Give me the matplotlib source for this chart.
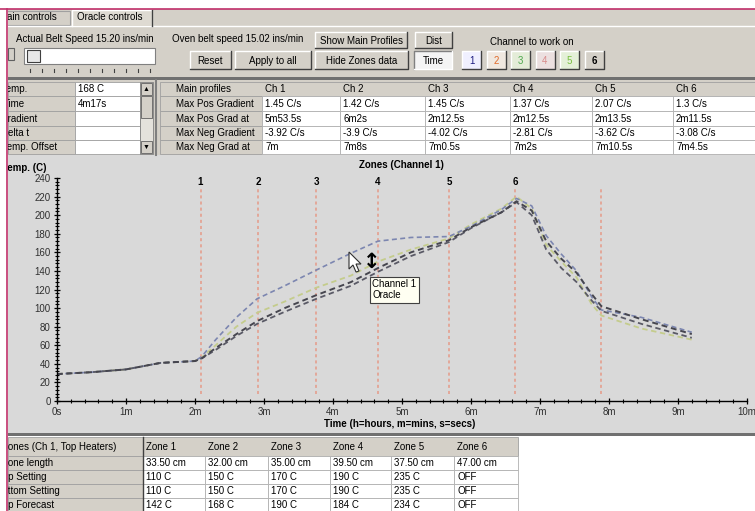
#!/usr/bin/env python3
"""Oracle controls screen: zone profile chart with the surrounding panels."""

import matplotlib
matplotlib.use('Agg')
import matplotlib.pyplot as plt
from matplotlib.patches import Rectangle, Polygon
from matplotlib.lines import Line2D
from matplotlib.ticker import MultipleLocator

plt.rcParams['font.family'] = ['Liberation Sans', 'DejaVu Sans']

# ---- data ----
times_min = [0, 0.5, 1.0, 1.5, 2.0, 2.1, 2.3, 2.6, 2.9, 3.3, 3.76, 4.26, 4.65,
             5.13, 5.68, 6.0, 6.44, 6.66, 6.88, 7.09, 7.31, 7.53, 7.75, 7.89,
             8.47, 9.2]
dark_a = [29, 31, 34, 41, 43, 46, 57, 72, 86, 100, 114, 128, 143, 160, 173,
          187, 203, 215, 205, 172, 153, 138, 115, 102, 88, 72]
dark_b = [29, 31, 34, 41, 43, 46, 55, 70, 83, 96, 110, 124, 139, 156, 171,
          186, 203, 214, 200, 163, 143, 128, 108, 97, 83, 68]
oracle = [29, 31, 34, 41, 43, 48, 66, 90, 110, 124, 141, 159, 172, 176, 177,
          188, 206, 218, 210, 178, 158, 140, 112, 98, 90, 74]
green = [29, 31, 34, 41, 43, 47, 60, 80, 95, 107, 122, 135, 150, 163, 175,
         190, 207, 220, 207, 168, 150, 133, 104, 92, 78, 66]

zone_times = [2.08, 2.92, 3.76, 4.65, 5.68, 6.64, 7.88]
zone_marks = ['1', '2', '3', '4', '5', '6', '']
x_ticklabels = ['0s', '1m', '2m', '3m', '4m', '5m', '6m', '7m', '8m', '9m', '10m']

left_labels = ['Temp.', 'Time', 'Gradient', 'Delta t', 'Temp. Offset']
left_values = ['168 C', '4m17s', '', '', '']

channels = ['Ch 1', 'Ch 2', 'Ch 3', 'Ch 4', 'Ch 5', 'Ch 6']
profile_rows = ['Max Pos Gradient', 'Max Pos Grad at', 'Max Neg Gradient',
                'Max Neg Grad at']
max_pos_grad = ['1.45 C/s', '1.42 C/s', '1.45 C/s', '1.37 C/s', '2.07 C/s', '1.3 C/s']
max_pos_at = ['5m53.5s', '6m2s', '2m12.5s', '2m12.5s', '2m13.5s', '2m11.5s']
max_neg_grad = ['-3.92 C/s', '-3.9 C/s', '-4.02 C/s', '-2.81 C/s', '-3.62 C/s', '-3.08 C/s']
max_neg_at = ['7m', '7m8s', '7m0.5s', '7m2s', '7m10.5s', '7m4.5s']

zone_names = ['Zone 1', 'Zone 2', 'Zone 3', 'Zone 4', 'Zone 5', 'Zone 6']
zone_rows = ['Zone length', 'Top Setting', 'Bottom Setting', 'Top Forecast']
zone_length = ['33.50 cm', '32.00 cm', '35.00 cm', '39.50 cm', '37.50 cm', '47.00 cm']
top_setting = ['110 C', '150 C', '170 C', '190 C', '235 C', 'OFF']
bottom_setting = ['110 C', '150 C', '170 C', '190 C', '235 C', 'OFF']
top_forecast = ['142 C', '168 C', '190 C', '184 C', '234 C', 'OFF']

W, H = 755, 511
FACE = '#d4d0c8'
CHART_BG = '#d9d9d9'
FS = 7

fig = plt.figure(figsize=(W / 100, H / 100), dpi=100, facecolor='white')

# ui layer in pixel coordinates (clipped at the left/top frame line)
ui = fig.add_axes([7.5 / W, 0, 1 - 7.5 / W, (H - 9) / H])
ui.set_xlim(7.5, W)
ui.set_ylim(H, 9)
ui.axis('off')
ui.set_facecolor('white')


def box(x0, y0, x1, y1, fc, ec='#808080', lw=0.8, z=1):
    ui.add_patch(Rectangle((x0, y0), x1 - x0, y1 - y0, fc=fc, ec=ec, lw=lw, zorder=z))


def txt(x, y, s, ha='left', color='black', bold=False, size=FS):
    ui.text(x, y, s, ha=ha, va='center', color=color, fontsize=size,
            fontweight='bold' if bold else 'normal', clip_on=True, zorder=5)


def button(x0, y0, x1, y1, label, color='black', fc=FACE, bold=False, sunken=False):
    box(x0, y0, x1, y1, fc, ec='none', z=2)
    light, dark = ('#808080', 'white') if sunken else ('white', '#404040')
    ui.plot([x0, x0, x1], [y1, y0, y0], color=light, lw=1, zorder=3)
    ui.plot([x0, x1, x1], [y1, y1, y0], color=dark, lw=1, zorder=3)
    txt((x0 + x1) / 2, (y0 + y1) / 2 + 0.5, label, ha='center', color=color, bold=bold)


# frame lines around the captured window
fig.add_artist(Line2D([0, 1], [1 - 9 / H, 1 - 9 / H], color='#c0306a', lw=1.2))
fig.add_artist(Line2D([7 / W, 7 / W], [0, 1 - 9 / H], color='#c0306a', lw=1.2))

# ---- top control panel ----
box(7.5, 9, W, 79, FACE, ec='none')
box(7.5, 77, W, 80, '#707070', ec='none')
ui.plot([7.5, W], [25.5, 25.5], color='white', lw=1)
box(0, 11, 70, 25, FACE, ec='#a0a0a0')
txt(-1, 17, 'Main controls')
box(72, 9, 152, 26, '#dedad2', ec='none', z=2)
ui.plot([72, 72, 152, 152], [26, 10, 10, 26], color='white', lw=1, zorder=3)
ui.plot([152, 152], [10, 26], color='#404040', lw=1, zorder=3)
txt(77, 17, 'Oracle controls')

txt(16, 39, 'Actual Belt Speed 15.20 ins/min')
txt(172, 39, 'Oven belt speed 15.02 ins/min')
button(315, 32, 407, 48, 'Show Main Profiles')
button(415, 32, 452, 48, 'Dist')
txt(490, 42, 'Channel to work on')

# slider
box(8, 48, 14, 60, FACE, ec='#606060')
box(24, 48, 155, 64, 'white', ec='#808080')
box(27, 50, 40, 62, '#e8e8e8', ec='#404040')
for i in range(11):
    sx = 30 + i * 12
    ui.plot([sx, sx], [69, 72], color='#404040', lw=0.8)

button(190, 51, 231, 69, 'Reset')
button(235, 51, 311, 69, 'Apply to all')
button(315, 51, 408, 69, 'Hide Zones data')
button(414, 51, 452, 69, 'Time', fc='#f4f4f4', sunken=True)
chan_colors = ['#1c1c80', '#e06a2a', '#4ea84e', '#d88a8a', '#78c040', 'black']
chan_fc = ['#f0f0ff', '#f0e8e0', '#e4ecd8', '#ece0e0', '#e4f0d8', FACE]
for i, c in enumerate(chan_colors):
    bx = 462 + i * 24.5
    button(bx, 51, bx + 19, 69, str(i + 1), color=c, fc=chan_fc[i], bold=(i == 5))

# ---- left info table ----
box(7.5, 80, W, 155, FACE, ec='none')
row_edges = [82, 96, 111, 126, 140, 154]
for r, (lab, val) in enumerate(zip(left_labels, left_values)):
    y0, y1 = row_edges[r], row_edges[r + 1]
    box(7.5, y0, 75, y1, FACE, ec='#a0a0a0', lw=0.6)
    box(75, y0, 140, y1, 'white', ec='#a0a0a0', lw=0.6)
    txt(8 - {'Temp.': 6, 'Time': 4, 'Gradient': 7.5, 'Delta t': 7,
             'Temp. Offset': 6}[lab], (y0 + y1) / 2, lab)
    txt(78, (y0 + y1) / 2, val)
box(140, 82, 153, 154, '#e4e2dc', ec='#808080', lw=0.6)
box(141, 83, 152, 95, FACE, ec='#606060', lw=0.6)
box(141, 141, 152, 153, FACE, ec='#606060', lw=0.6)
box(141, 96, 152, 118, FACE, ec='#606060', lw=0.6)
txt(146.5, 89, '▲', ha='center', size=5)
txt(146.5, 147, '▼', ha='center', size=5)
ui.plot([156, 156], [80, 155], color='#808080', lw=1.5)

# ---- main profiles table ----
col_edges = [160, 262, 340, 425, 510, 592, 673, W]
rows = [max_pos_grad, max_pos_at, max_neg_grad, max_neg_at]
box(160, 82, W, 96, FACE, ec='#a0a0a0', lw=0.6)
txt(176, 89, 'Main profiles')
for j, ch in enumerate(channels):
    txt(col_edges[j + 1] + 3, 89, ch)
for r, (lab, vals) in enumerate(zip(profile_rows, rows)):
    y0, y1 = row_edges[r + 1], row_edges[r + 2]
    box(160, y0, 262, y1, FACE, ec='#a0a0a0', lw=0.6)
    txt(176, (y0 + y1) / 2, lab)
    for j, v in enumerate(vals):
        box(col_edges[j + 1], y0, col_edges[j + 2], y1, 'white', ec='#b0b0b0', lw=0.6)
        txt(col_edges[j + 1] + 3, (y0 + y1) / 2, v)

# ---- chart panel ----
box(7.5, 155, W, 435, CHART_BG, ec='none')
box(7.5, 433, W, 436, '#707070', ec='none')
txt(401, 165, 'Zones (Channel 1)', ha='center', bold=True)
txt(2, 168, 'Temp. (C)', bold=True)
txt(400, 424, 'Time (h=hours, m=mins, s=secs)', ha='center', bold=True)

ax = fig.add_axes([57 / W, (H - 401) / H, 690 / W, 223 / H])
ax.patch.set_alpha(0)
ax.set_xlim(0, 10)
ax.set_ylim(0, 240)
for side in ('top', 'right'):
    ax.spines[side].set_visible(False)
ax.spines['left'].set_linewidth(1)
ax.spines['bottom'].set_linewidth(1)
ax.xaxis.set_major_locator(MultipleLocator(1))
ax.xaxis.set_minor_locator(MultipleLocator(0.2))
ax.yaxis.set_major_locator(MultipleLocator(20))
ax.yaxis.set_minor_locator(MultipleLocator(4))
ax.set_xticks(range(11))
ax.set_xticklabels(x_ticklabels)
ax.tick_params(which='major', direction='inout', length=5, width=0.9,
               labelsize=FS, pad=2, colors='black')
ax.tick_params(which='minor', direction='inout', length=3, width=0.8)
ax.tick_params(axis='y', labelcolor='#303030')
ax.tick_params(axis='x', labelcolor='#303030')

ax.vlines(zone_times, 8, 229, colors='#e69a88', linestyles=(0, (2, 2)), lw=1.1)
for zt, zm in zip(zone_times, zone_marks):
    ax.text(zt, 236, zm, ha='center', va='center', fontsize=FS,
            fontweight='bold', clip_on=False)

ax.plot(times_min, green, color='#c4cc8c', ls=(0, (3, 2)), lw=1.3)
ax.plot(times_min, oracle, color='#7c86b0', ls=(0, (3, 2)), lw=1.2)
ax.plot(times_min, dark_b, color='#5a5a66', ls=(0, (3, 2)), lw=1.3)
ax.plot(times_min, dark_a, color='#46464f', ls=(0, (3, 2)), lw=1.4)

ax.text(4.57, 131, 'Channel 1\nOracle', fontsize=FS, va='top', ha='left',
        linespacing=1.1,
        bbox=dict(boxstyle='square,pad=0.25', fc='#fffff2', ec='#404040', lw=0.8))
ax.text(4.56, 150, '↕', fontsize=15, fontweight='bold', ha='center', va='center',
        family='DejaVu Sans')
pointer = [(0, 0), (0, 17), (4, 13), (7, 20), (10, 19), (7, 12), (12, 12)]
ax.add_patch(Polygon([(349 + px, 252 + py) for px, py in pointer], closed=True,
                     fc='white', ec='#303030', lw=0.8, transform=ui.transData,
                     clip_on=False, zorder=6))

# ---- zones table ----
zcol = [7.5, 143, 205, 268, 330, 391, 454, 518]
zrow = [437, 456, 470, 484, 498, 512]
box(7.5, zrow[0], 518, zrow[1], FACE, ec='#a0a0a0', lw=0.6)
txt(2, 447, 'Zones (Ch 1, Top Heaters)')
for j, zn in enumerate(zone_names):
    txt(zcol[j + 1] + 3, 447, zn)
ui.plot([143, 143], [437, 512], color='#404040', lw=1)
offsets = {'Zone length': 2, 'Top Setting': -2, 'Bottom Setting': -4, 'Top Forecast': -2}
for r, (lab, vals) in enumerate(zip(zone_rows, [zone_length, top_setting,
                                                bottom_setting, top_forecast])):
    y0, y1 = zrow[r + 1], zrow[r + 2]
    box(7.5, y0, 143, y1, FACE, ec='#a0a0a0', lw=0.6)
    txt(offsets[lab], (y0 + y1) / 2, lab)
    for j, v in enumerate(vals):
        box(zcol[j + 1], y0, zcol[j + 2], y1, 'white', ec='#b0b0b0', lw=0.6)
        txt(zcol[j + 1] + 3, (y0 + y1) / 2, v)

fig.savefig('out.png', dpi=100, facecolor='white')
